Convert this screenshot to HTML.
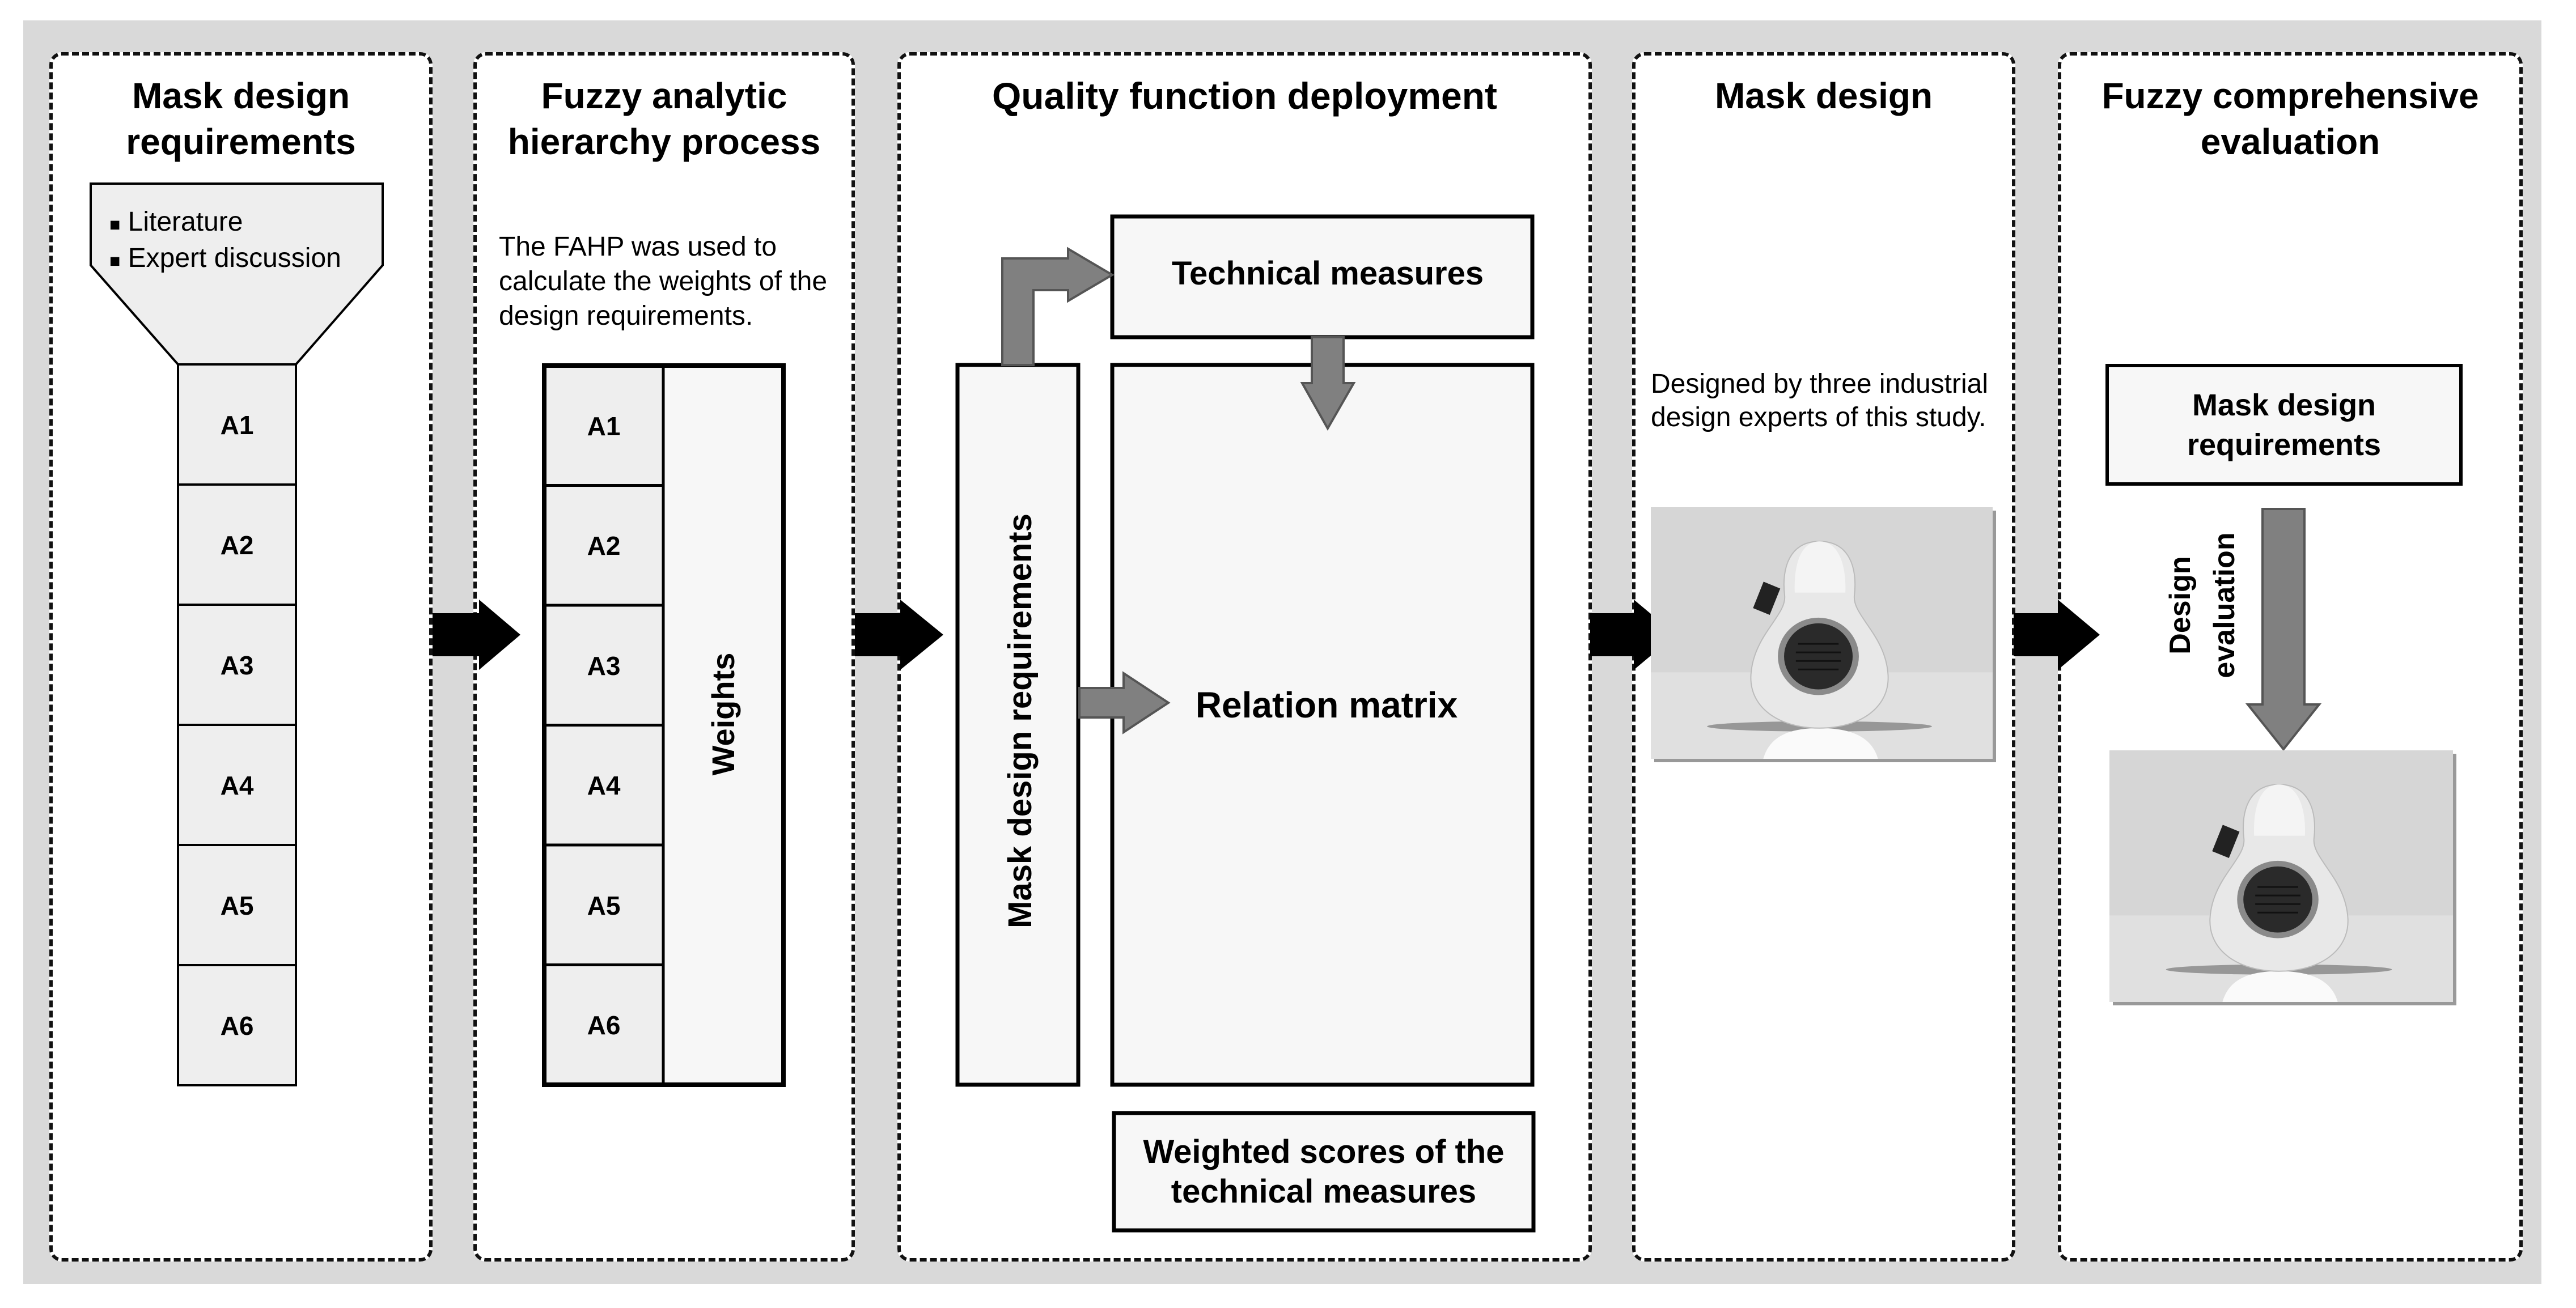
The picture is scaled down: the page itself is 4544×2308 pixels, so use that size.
<!DOCTYPE html>
<html><head><meta charset="utf-8"><style>
html,body{margin:0;padding:0;background:#fff;}
#root{position:relative;width:4544px;height:2308px;overflow:hidden;background:#fff;font-family:"Liberation Sans",Arial,sans-serif;color:#000;}
.bg{position:absolute;left:41px;top:36px;width:4442px;height:2230px;background:#d9d9d9;}
.panel{position:absolute;top:92px;height:2134px;background:#fff;border:6px dashed #111;border-radius:22px;box-sizing:border-box;}
.t{position:absolute;white-space:nowrap;line-height:1;}
.title{font-weight:bold;font-size:64px;text-align:center;line-height:81px;position:absolute;}
.b{font-weight:bold;}
.c{transform:translate(-50%,-50%);text-align:center;}
.rot{transform:translate(-50%,-50%) rotate(-90deg);}
svg{position:absolute;left:0;top:0;}
</style></head><body><div id="root">
<div class="bg"></div>
<div class="panel" style="left:87px;width:676px;"></div>
<div class="panel" style="left:835px;width:673px;"></div>
<div class="panel" style="left:1583px;width:1225px;"></div>
<div class="panel" style="left:2879px;width:676px;"></div>
<div class="panel" style="left:3630px;width:820px;"></div>

<svg width="4544" height="2308" viewBox="0 0 4544 2308">
<defs>
<g id="mask">
<rect x="0" y="0" width="608" height="442" fill="#d6d6d6"/>
<rect x="0" y="290" width="608" height="152" fill="#e0e0e0"/>
<ellipse cx="300" cy="385" rx="200" ry="9" fill="#666" opacity="0.6"/>
<path d="M200 442 C212 400 250 388 300 388 C350 388 392 400 404 442 Z" fill="#fafafa"/>
<path d="M300 60 C248 60 232 105 238 155 C242 190 182 225 178 295 C175 352 228 388 300 388 C372 388 425 352 422 295 C418 225 358 190 362 155 C368 105 352 60 300 60 Z" fill="#e8e8e8" stroke="#bbb" stroke-width="2"/>
<path d="M300 60 C268 60 254 98 256 150 L346 150 C348 98 332 60 300 60 Z" fill="#f4f4f4"/>
<rect x="190" y="135" width="32" height="50" fill="#222" transform="rotate(22 206 160)"/>
<ellipse cx="298" cy="262" rx="72" ry="68" fill="#8a8a8a"/>
<ellipse cx="298" cy="262" rx="61" ry="58" fill="#2a2a2a"/>
<g stroke="#111" stroke-width="3"><line x1="262" y1="240" x2="334" y2="240"/><line x1="258" y1="255" x2="338" y2="255"/><line x1="258" y1="270" x2="338" y2="270"/><line x1="262" y1="285" x2="334" y2="285"/></g>
</g>
</defs>
<polygon points="160,324 675,324 675,468 522,643 314,643 160,468" fill="#eeeeee" stroke="#000" stroke-width="4"/>
<g fill="#eeeeee" stroke="#000" stroke-width="4">
<rect x="314" y="643" width="208" height="212"/><rect x="314" y="855" width="208" height="212"/><rect x="314" y="1067" width="208" height="212"/><rect x="314" y="1279" width="208" height="212"/><rect x="314" y="1491" width="208" height="212"/><rect x="314" y="1703" width="208" height="212"/>
</g>
<rect x="1170" y="645" width="212" height="1269" fill="#f7f7f7"/>
<g fill="#eeeeee" stroke="#000" stroke-width="5">
<rect x="960" y="645" width="210" height="211.5"/><rect x="960" y="856.5" width="210" height="211.5"/><rect x="960" y="1068" width="210" height="211.5"/><rect x="960" y="1279.5" width="210" height="211.5"/><rect x="960" y="1491" width="210" height="211.5"/><rect x="960" y="1702.5" width="210" height="211.5"/>
</g>
<rect x="960" y="645" width="422" height="1269" fill="none" stroke="#000" stroke-width="8"/>
<g fill="#f7f7f7" stroke="#000" stroke-width="7">
<rect x="1962" y="382" width="741" height="213"/>
<rect x="1962" y="644" width="741" height="1270"/>
<rect x="1689" y="644" width="213" height="1270"/>
<rect x="1965" y="1964" width="740" height="207"/>
</g>
<g fill="#808080" stroke="#555" stroke-width="4">
<path d="M1768 644 L1768 456 L1884 456 L1884 439 L1962 485 L1884 531 L1884 512 L1823 512 L1823 644 Z"/>
<path d="M2314 595 L2370 595 L2370 676 L2388 676 L2342 756 L2297 676 L2314 676 Z"/>
<path d="M1904 1214 L1982 1214 L1982 1188 L2061 1240 L1982 1292 L1982 1266 L1904 1266 Z"/>
<path d="M3991 898 L4065 898 L4065 1243 L4091 1243 L4028 1322 L3965 1243 L3991 1243 Z"/>
</g>
<g fill="#000">
<path d="M763 1082 L845 1082 L845 1058 L918 1120 L845 1182 L845 1158 L763 1158 Z"/>
<path d="M1508 1082 L1588 1082 L1588 1058 L1664 1120 L1588 1182 L1588 1158 L1508 1158 Z"/>
<path d="M2805 1082 L2882 1082 L2882 1058 L2956 1120 L2882 1182 L2882 1158 L2805 1158 Z"/>
<path d="M3552 1082 L3630 1082 L3630 1058 L3704 1120 L3630 1182 L3630 1158 L3552 1158 Z"/>
</g>
<rect x="3717" y="645" width="624" height="209" fill="#f7f7f7" stroke="#000" stroke-width="6"/>
<rect x="2918" y="901" width="603" height="444" fill="#999"/>
<svg x="2912" y="895" width="603" height="444" viewBox="0 0 608 442" preserveAspectRatio="none"><use href="#mask"/></svg>
<rect x="3727" y="1330" width="606" height="444" fill="#999"/>
<svg x="3721" y="1324" width="606" height="444" viewBox="0 0 608 442" preserveAspectRatio="none"><use href="#mask"/></svg>
</svg>

<div class="title" style="left:87px;width:676px;top:129px;">Mask design<br>requirements</div>
<div class="title" style="left:835px;width:673px;top:129px;">Fuzzy analytic<br>hierarchy process</div>
<div class="title" style="left:1583px;width:1225px;top:129px;font-size:66px;">Quality function deployment</div>
<div class="title" style="left:2879px;width:676px;top:129px;">Mask design</div>
<div class="title" style="left:3630px;width:820px;top:129px;">Fuzzy comprehensive<br>evaluation</div>

<div class="t" style="left:193px;top:362px;font-size:48px;line-height:60px;"><span style="font-size:32px;">■</span> Literature<br><span style="font-size:32px;">■</span> Expert discussion</div>
<div class="t" style="left:880px;top:405px;font-size:48px;line-height:61px;">The FAHP was used to<br>calculate the weights of the<br>design requirements.</div>
<div class="t" style="left:2912px;top:648px;font-size:48px;line-height:59px;">Designed by three industrial<br>design experts of this study.</div>

<div class="t b c" style="left:418px;top:750px;font-size:46px;">A1</div>
<div class="t b c" style="left:418px;top:962px;font-size:46px;">A2</div>
<div class="t b c" style="left:418px;top:1174px;font-size:46px;">A3</div>
<div class="t b c" style="left:418px;top:1386px;font-size:46px;">A4</div>
<div class="t b c" style="left:418px;top:1598px;font-size:46px;">A5</div>
<div class="t b c" style="left:418px;top:1810px;font-size:46px;">A6</div>
<div class="t b c" style="left:1065px;top:752px;font-size:46px;">A1</div>
<div class="t b c" style="left:1065px;top:963px;font-size:46px;">A2</div>
<div class="t b c" style="left:1065px;top:1175px;font-size:46px;">A3</div>
<div class="t b c" style="left:1065px;top:1386px;font-size:46px;">A4</div>
<div class="t b c" style="left:1065px;top:1598px;font-size:46px;">A5</div>
<div class="t b c" style="left:1065px;top:1809px;font-size:46px;">A6</div>
<div class="t b rot" style="left:1276px;top:1260px;font-size:56px;">Weights</div>

<div class="t b c" style="left:2342px;top:483px;font-size:58px;">Technical measures</div>
<div class="t b c" style="left:2340px;top:1244px;font-size:64px;">Relation matrix</div>
<div class="t b c" style="left:2335px;top:2068px;font-size:58px;line-height:70px;">Weighted scores of the<br>technical measures</div>
<div class="t b rot" style="left:1800px;top:1272px;font-size:58px;">Mask design requirements</div>

<div class="t b c" style="left:4029px;top:750px;font-size:54px;line-height:70px;">Mask design<br>requirements</div>
<div class="t b rot" style="left:3885px;top:1068px;font-size:52px;line-height:78px;text-align:center;">Design<br>evaluation</div>
</div></body></html>
